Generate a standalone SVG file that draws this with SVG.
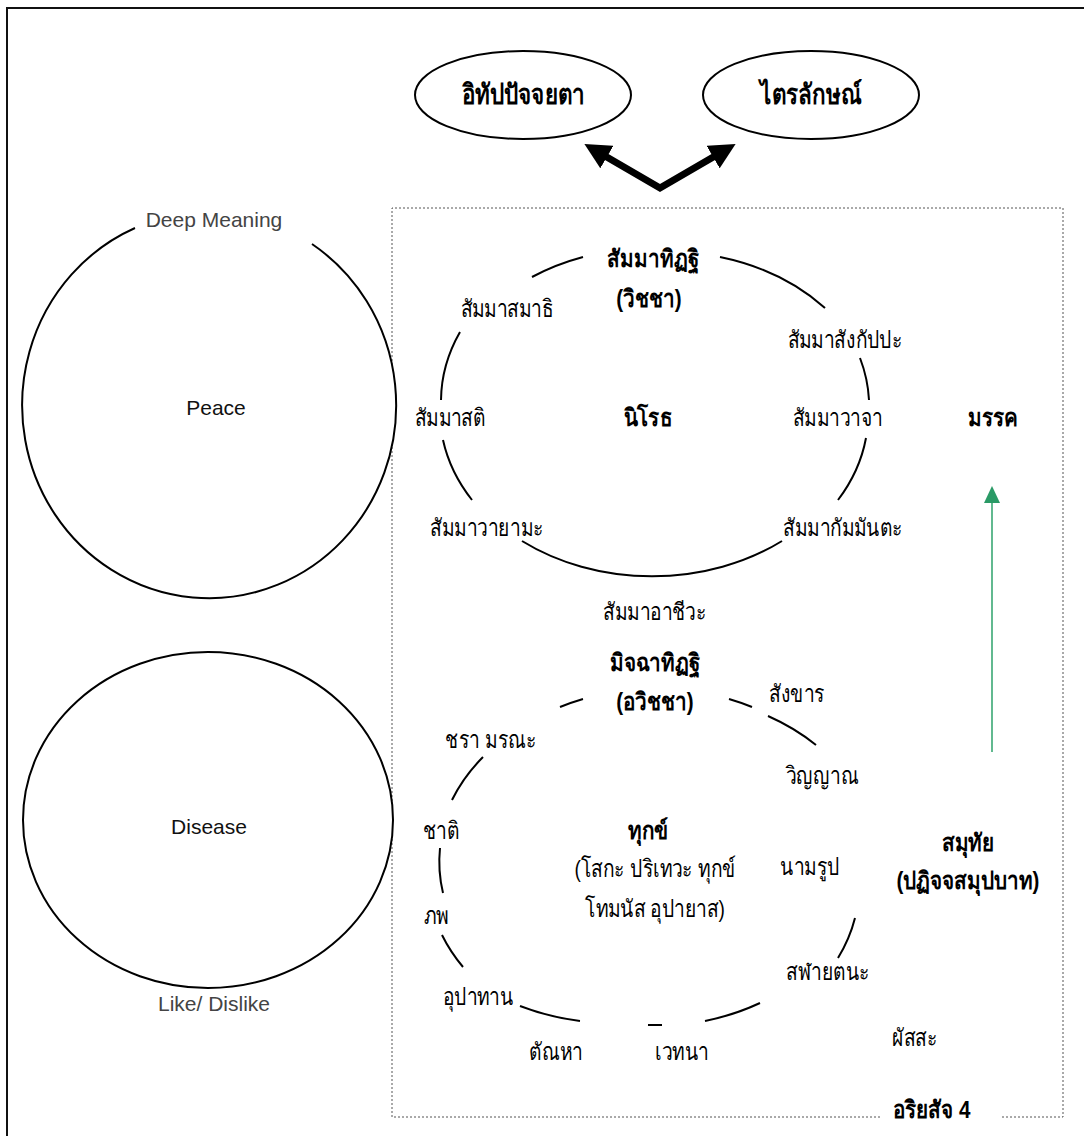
<svg xmlns="http://www.w3.org/2000/svg" width="1084" height="1136" viewBox="0 0 1084 1136">
  <defs>
    <style>
      .th { font-family: "Liberation Sans", "Noto Sans", sans-serif; font-size: 24px; fill: #000; text-anchor: middle; }
      .thb { font-family: "Liberation Sans", "Noto Sans", sans-serif; font-size: 24px; font-weight: bold; fill: #000; text-anchor: middle; }
      .thl { font-family: "Liberation Sans", "Noto Sans", sans-serif; font-size: 28px; font-weight: bold; fill: #000; text-anchor: middle; }
      .en { font-family: "Liberation Sans", Arial, sans-serif; font-size: 21px; fill: #111; text-anchor: middle; }
      .en-gray { font-family: "Liberation Sans", Arial, sans-serif; font-size: 21px; fill: #444; text-anchor: middle; }
      .ring { fill: none; stroke: #000; stroke-width: 2; }
      .circ { fill: #fff; stroke: #000; stroke-width: 2; }
    </style>
    <marker id="headBlack" viewBox="0 0 24 24" refX="2" refY="12" markerWidth="26" markerHeight="26" markerUnits="userSpaceOnUse" orient="auto-start-reverse">
      <path d="M0,0 L24,12 L0,24 z" fill="#000"/>
    </marker>
  </defs>

  <rect width="1084" height="1136" fill="#fff"/>

  <!-- outer frame (right and bottom edges run past the canvas) -->
  <rect x="7" y="8" width="1100" height="1150" fill="none" stroke="#111" stroke-width="2"/>

  <!-- dotted boundary of the four noble truths; gap at the bottom for its label -->
  <g id="ariyasacca-frame" fill="none" stroke="#555" stroke-width="1" stroke-dasharray="2,2">
    <path d="M880,1117 L392,1117 L392,208 L1063,208 L1063,1117 L1000,1117"/>
  </g>

  <!-- left: Peace / Deep Meaning (white fill hides the dotted edge behind it) -->
  <g id="peace">
    <ellipse cx="209" cy="405" rx="187" ry="193" fill="#fff" stroke="none"/>
    <path class="ring" d="M312,244 A187 193 0 1 1 135,228"/>
    <text class="en-gray" x="214" y="227">Deep Meaning</text>
    <text class="en" x="216" y="415">Peace</text>
  </g>

  <!-- left: Disease / Like/ Dislike -->
  <g id="disease">
    <ellipse class="circ" cx="208" cy="820" rx="185" ry="168"/>
    <text class="en" x="209" y="834">Disease</text>
  </g>
  <text id="like-dislike" class="en-gray" x="214" y="1011">Like/ Dislike</text>

  <!-- top ellipses -->
  <g id="idappaccayata">
    <ellipse class="circ" cx="523" cy="95" rx="108" ry="44"/>
    <text class="thl" x="523" y="104" transform="matrix(0.8 0 0 1 104.6 0)">อิทัปปัจจยตา</text>
  </g>
  <g id="trilakkhana">
    <ellipse class="circ" cx="811" cy="95" rx="108" ry="44"/>
    <text class="thl" x="811" y="104" transform="matrix(0.8 0 0 1 162.2 0)">ไตรลักษณ์</text>
  </g>

  <!-- upper ring: the eightfold path around nirodha -->
  <g id="magga-ring">
    <path class="ring" d="M532,277 A212 168 0 0 1 583,257"/>
    <path class="ring" d="M720,257 A212 168 0 0 1 825,308"/>
    <path class="ring" d="M860,358 A212 168 0 0 1 869,400"/>
    <path class="ring" d="M866,438 A212 168 0 0 1 838,500"/>
    <path class="ring" d="M782,541 A212 168 0 0 1 522,541"/>
    <path class="ring" d="M472,500 A212 168 0 0 1 443,440"/>
    <path class="ring" d="M441,400 A212 168 0 0 1 460,332"/>
  </g>

  <g id="magga-labels">
    <text class="thb" x="653" y="267" transform="matrix(0.86 0 0 1 91.42 0)">สัมมาทิฏฐิ</text>
    <text class="thb" x="649" y="307" transform="matrix(0.86 0 0 1 90.86 0)">(วิชชา)</text>
    <text class="th" x="507" y="317" transform="matrix(0.8 0 0 1 101.4 0)">สัมมาสมาธิ</text>
    <text class="th" x="845" y="348" transform="matrix(0.8 0 0 1 169 0)">สัมมาสังกัปปะ</text>
    <text class="th" x="450" y="426" transform="matrix(0.8 0 0 1 90 0)">สัมมาสติ</text>
    <text class="thb" x="648" y="426" transform="matrix(0.86 0 0 1 90.72 0)">นิโรธ</text>
    <text class="th" x="838" y="426" transform="matrix(0.8 0 0 1 167.6 0)">สัมมาวาจา</text>
    <text class="th" x="487" y="536" transform="matrix(0.8 0 0 1 97.4 0)">สัมมาวายามะ</text>
    <text class="th" x="843" y="536" transform="matrix(0.8 0 0 1 168.6 0)">สัมมากัมมันตะ</text>
    <text class="th" x="655" y="620" transform="matrix(0.8 0 0 1 131 0)">สัมมาอาชีวะ</text>
  </g>
  <text id="magga" class="thb" x="993" y="426" transform="matrix(0.86 0 0 1 139.02 0)">มรรค</text>

  <!-- lower ring: dependent origination around dukkha -->
  <g id="paticca-ring">
    <path class="ring" d="M560,707 A212 168 0 0 1 583,699"/>
    <path class="ring" d="M729,699 A212 168 0 0 1 752,707"/>
    <path class="ring" d="M768,716 A212 168 0 0 1 816,745"/>
    <path class="ring" d="M855,918 A212 168 0 0 1 838,958"/>
    <path class="ring" d="M760,1003 A212 168 0 0 1 705,1021"/>
    <path class="ring" d="M662,1025 A212 168 0 0 1 648,1025"/>
    <path class="ring" d="M580,1021 A212 168 0 0 1 520,1006"/>
    <path class="ring" d="M463,967 A212 168 0 0 1 442,935"/>
    <path class="ring" d="M443,893 A212 168 0 0 1 440,848"/>
    <path class="ring" d="M452,800 A212 168 0 0 1 483,757"/>
  </g>

  <g id="paticca-labels">
    <text class="thb" x="655" y="671" transform="matrix(0.86 0 0 1 91.7 0)">มิจฉาทิฏฐิ</text>
    <text class="thb" x="655" y="710" transform="matrix(0.86 0 0 1 91.7 0)">(อวิชชา)</text>
    <text class="th" x="797" y="702" transform="matrix(0.8 0 0 1 159.4 0)">สังขาร</text>
    <text class="th" x="491" y="748" transform="matrix(0.8 0 0 1 98.2 0)">ชรา มรณะ</text>
    <text class="th" x="822" y="784" transform="matrix(0.8 0 0 1 164.4 0)">วิญญาณ</text>
    <text class="th" x="441" y="839" transform="matrix(0.8 0 0 1 88.2 0)">ชาติ</text>
    <text class="thb" x="648" y="839" transform="matrix(0.86 0 0 1 90.72 0)">ทุกข์</text>
    <text class="th" x="655" y="877" transform="matrix(0.8 0 0 1 131 0)">(โสกะ ปริเทวะ ทุกข์</text>
    <text class="th" x="810" y="875" transform="matrix(0.8 0 0 1 162 0)">นามรูป</text>
    <text class="th" x="655" y="917" transform="matrix(0.8 0 0 1 131 0)">โทมนัส อุปายาส)</text>
    <text class="th" x="436" y="924" transform="matrix(0.8 0 0 1 87.2 0)">ภพ</text>
    <text class="th" x="828" y="980" transform="matrix(0.8 0 0 1 165.6 0)">สฬายตนะ</text>
    <text class="th" x="478" y="1005" transform="matrix(0.8 0 0 1 95.6 0)">อุปาทาน</text>
    <text class="th" x="915" y="1046" transform="matrix(0.8 0 0 1 183 0)">ผัสสะ</text>
    <text class="th" x="556" y="1060" transform="matrix(0.8 0 0 1 111.2 0)">ตัณหา</text>
    <text class="th" x="682" y="1060" transform="matrix(0.8 0 0 1 136.4 0)">เวทนา</text>
  </g>

  <g id="samudaya">
    <text class="thb" x="968" y="851" transform="matrix(0.86 0 0 1 135.52 0)">สมุทัย</text>
    <text class="thb" x="968" y="889" transform="matrix(0.86 0 0 1 135.52 0)">(ปฏิจจสมุปบาท)</text>
  </g>

  <text id="ariyasacca-label" class="thb" x="932" y="1118" transform="matrix(0.86 0 0 1 130.48 0)">อริยสัจ 4</text>

  <!-- connectors -->
  <g id="connectors">
    <path d="M605,156 L660,188 L715,156" fill="none" stroke="#000" stroke-width="7" stroke-linejoin="miter" marker-start="url(#headBlack)" marker-end="url(#headBlack)"/>
    <line x1="992" y1="752" x2="992" y2="500" stroke="#3aa874" stroke-width="1.6"/>
    <polygon points="992,486 984,503 1000,503" fill="#2a9a66"/>
  </g>
</svg>
